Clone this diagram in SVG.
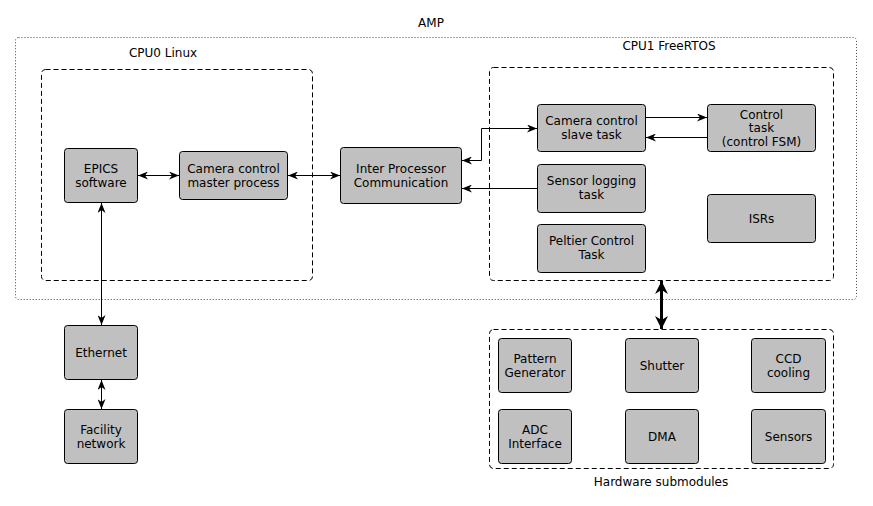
<svg xmlns="http://www.w3.org/2000/svg" width="873" height="506" viewBox="0 0 873 506">
<style>
text{font-family:"DejaVu Sans","Liberation Sans",sans-serif;font-size:12px;fill:#000;text-anchor:middle}
.node{fill:#c0c0c0;stroke:#000;stroke-width:1}
.grp{fill:none;stroke:#000;stroke-width:1;stroke-dasharray:5 3}
.amp{fill:none;stroke:#444;stroke-width:1;stroke-dasharray:1 2}
.c{fill:none;stroke:#000;stroke-width:1}
.thick{fill:none;stroke:#000;stroke-width:3}
</style>
<defs>
<marker id="ah" viewBox="0 0 10 8" refX="10" refY="4" markerWidth="10" markerHeight="8" markerUnits="userSpaceOnUse" orient="auto-start-reverse">
<path d="M0,0 L10,4 L0,8 L3,4 z" fill="#000"/>
</marker>
<marker id="ahb" viewBox="0 0 10 10" refX="10" refY="5" markerWidth="13" markerHeight="13" markerUnits="userSpaceOnUse" orient="auto-start-reverse">
<path d="M0,0 L10,5 L0,10 L3,5 z" fill="#000"/>
</marker>
</defs>

<g id="amp">
<rect class="amp" x="15.5" y="37.5" width="841" height="262" rx="3"/>
<text x="431" y="27">AMP</text>
</g>
<g id="cpu0">
<rect class="grp" x="41.5" y="69.5" width="271" height="211" rx="4"/>
<text x="163" y="57">CPU0 Linux</text>
</g>
<g id="cpu1">
<rect class="grp" x="489.5" y="67.5" width="344" height="213" rx="4"/>
<text x="669" y="50">CPU1 FreeRTOS</text>
</g>
<g id="hw">
<rect class="grp" x="489.5" y="329.5" width="344" height="139" rx="4"/>
<text x="661" y="486">Hardware submodules</text>
</g>

<g id="connectors">
<line class="c" x1="138" y1="175.5" x2="179" y2="175.5" marker-start="url(#ah)" marker-end="url(#ah)"/>
<line class="c" x1="288" y1="175.5" x2="340" y2="175.5" marker-start="url(#ah)" marker-end="url(#ah)"/>
<line class="c" x1="101.5" y1="203" x2="101.5" y2="325" marker-start="url(#ah)" marker-end="url(#ah)"/>
<line class="c" x1="101.5" y1="380" x2="101.5" y2="409" marker-start="url(#ah)" marker-end="url(#ah)"/>
<path class="c" d="M537,128.5 H481.5 V160.5 H462" marker-start="url(#ah)" marker-end="url(#ah)"/>
<line class="c" x1="537" y1="188.5" x2="462" y2="188.5" marker-end="url(#ah)"/>
<line class="c" x1="646" y1="117.5" x2="707" y2="117.5" marker-end="url(#ah)"/>
<line class="c" x1="707" y1="137.5" x2="646" y2="137.5" marker-end="url(#ah)"/>
<line class="thick" x1="661.5" y1="281" x2="661.5" y2="329" marker-start="url(#ahb)" marker-end="url(#ahb)"/>
</g>

<g id="epics">
<rect class="node" x="64.5" y="148.5" width="73" height="54" rx="3"/>
<text x="101" y="173">EPICS</text><text x="101" y="187">software</text>
</g>
<g id="master">
<rect class="node" x="179.5" y="151.5" width="108" height="48" rx="3"/>
<text x="233.5" y="173">Camera control</text><text x="233.5" y="187">master process</text>
</g>
<g id="ipc">
<rect class="node" x="340.5" y="147.5" width="121" height="56" rx="3"/>
<text x="401" y="173">Inter Processor</text><text x="401" y="187">Communication</text>
</g>
<g id="slave">
<rect class="node" x="537.5" y="104.5" width="108" height="47" rx="3"/>
<text x="591.5" y="124.5">Camera control</text><text x="591.5" y="138.5">slave task</text>
</g>
<g id="control">
<rect class="node" x="707.5" y="104.5" width="108" height="47" rx="3"/>
<text x="761.5" y="118.5">Control</text><text x="761.5" y="132">task</text><text x="761.5" y="146">(control FSM)</text>
</g>
<g id="sensorlog">
<rect class="node" x="537.5" y="164.5" width="108" height="48" rx="3"/>
<text x="591.5" y="185">Sensor logging</text><text x="591.5" y="198.5">task</text>
</g>
<g id="peltier">
<rect class="node" x="537.5" y="224.5" width="108" height="48" rx="3"/>
<text x="591.5" y="245">Peltier Control</text><text x="591.5" y="258.5">Task</text>
</g>
<g id="isrs">
<rect class="node" x="707.5" y="194.5" width="108" height="48" rx="3"/>
<text x="761.5" y="222.5">ISRs</text>
</g>
<g id="ethernet">
<rect class="node" x="64.5" y="325.5" width="73" height="54" rx="3"/>
<text x="101" y="356.5">Ethernet</text>
</g>
<g id="facility">
<rect class="node" x="64.5" y="409.5" width="73" height="54" rx="3"/>
<text x="101" y="433.5">Facility</text><text x="101" y="447.5">network</text>
</g>
<g id="pattern">
<rect class="node" x="498.5" y="338.5" width="73" height="54" rx="3"/>
<text x="535" y="362.5">Pattern</text><text x="535" y="376.5">Generator</text>
</g>
<g id="shutter">
<rect class="node" x="625.5" y="338.5" width="73" height="54" rx="3"/>
<text x="662" y="369.5">Shutter</text>
</g>
<g id="ccd">
<rect class="node" x="751.5" y="338.5" width="74" height="54" rx="3"/>
<text x="788.5" y="362.5">CCD</text><text x="788.5" y="376.5">cooling</text>
</g>
<g id="adc">
<rect class="node" x="498.5" y="409.5" width="73" height="54" rx="3"/>
<text x="535" y="433.5">ADC</text><text x="535" y="447.5">Interface</text>
</g>
<g id="dma">
<rect class="node" x="625.5" y="409.5" width="73" height="54" rx="3"/>
<text x="662" y="440.5">DMA</text>
</g>
<g id="sensors">
<rect class="node" x="751.5" y="409.5" width="74" height="54" rx="3"/>
<text x="788.5" y="440.5">Sensors</text>
</g>
</svg>
